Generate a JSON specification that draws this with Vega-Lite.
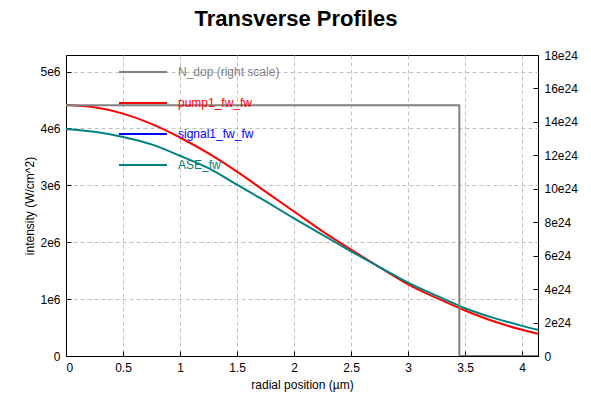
{
  "$schema": "https://vega.github.io/schema/vega-lite/v6.json",
  "width": 472,
  "height": 301,
  "autosize": {"type": "none"},
  "padding": {"left": 66, "top": 55, "right": 53, "bottom": 42},
  "background": "white",
  "title": {
    "text": "Transverse Profiles",
    "font": "Liberation Sans",
    "fontSize": 22,
    "fontWeight": "bold",
    "color": "#000000",
    "anchor": "middle",
    "frame": "group",
    "dx": -6,
    "offset": 16
  },
  "config": {
    "view": {"stroke": "#000000", "strokeWidth": 1},
    "font": "Liberation Sans",
    "axis": {
      "labelFont": "Liberation Sans",
      "labelFontSize": 12,
      "labelColor": "#000000",
      "titleFont": "Liberation Sans",
      "titleFontSize": 12,
      "titleFontWeight": "normal",
      "titleColor": "#000000",
      "domain": false,
      "tickColor": "#000000",
      "tickSize": -5,
      "labelPadding": 11,
      "gridWidth": 1
    }
  },
  "datasets": {
    "ndop": [
      {"r": 0, "n": 1.5e25, "o": 1, "series": "N_dop (right scale)"},
      {"r": 3.45, "n": 1.5e25, "o": 2, "series": "N_dop (right scale)"},
      {"r": 3.45, "n": 0, "o": 3, "series": "N_dop (right scale)"},
      {"r": 4.14, "n": 0, "o": 4, "series": "N_dop (right scale)"}
    ],
    "intensity": [
      {"r": 0, "I": 4410000, "series": "pump1_fw_fw"},
      {"r": 0.25, "I": 4370000, "series": "pump1_fw_fw"},
      {"r": 0.5, "I": 4260000, "series": "pump1_fw_fw"},
      {"r": 0.75, "I": 4080000, "series": "pump1_fw_fw"},
      {"r": 1.0, "I": 3840000, "series": "pump1_fw_fw"},
      {"r": 1.25, "I": 3560000, "series": "pump1_fw_fw"},
      {"r": 1.5, "I": 3240000, "series": "pump1_fw_fw"},
      {"r": 1.75, "I": 2890000, "series": "pump1_fw_fw"},
      {"r": 2.0, "I": 2540000, "series": "pump1_fw_fw"},
      {"r": 2.25, "I": 2190000, "series": "pump1_fw_fw"},
      {"r": 2.5, "I": 1870000, "series": "pump1_fw_fw"},
      {"r": 2.75, "I": 1560000, "series": "pump1_fw_fw"},
      {"r": 3.0, "I": 1260000, "series": "pump1_fw_fw"},
      {"r": 3.25, "I": 1020000, "series": "pump1_fw_fw"},
      {"r": 3.5, "I": 800000, "series": "pump1_fw_fw"},
      {"r": 3.75, "I": 610000, "series": "pump1_fw_fw"},
      {"r": 4.0, "I": 460000, "series": "pump1_fw_fw"},
      {"r": 4.14, "I": 390000, "series": "pump1_fw_fw"},
      {"r": 0, "I": null, "series": "signal1_fw_fw"},
      {"r": 4.14, "I": null, "series": "signal1_fw_fw"},
      {"r": 0, "I": 3990000, "series": "ASE_fw"},
      {"r": 0.25, "I": 3940000, "series": "ASE_fw"},
      {"r": 0.5, "I": 3850000, "series": "ASE_fw"},
      {"r": 0.75, "I": 3720000, "series": "ASE_fw"},
      {"r": 1.0, "I": 3520000, "series": "ASE_fw"},
      {"r": 1.25, "I": 3300000, "series": "ASE_fw"},
      {"r": 1.5, "I": 3010000, "series": "ASE_fw"},
      {"r": 1.75, "I": 2720000, "series": "ASE_fw"},
      {"r": 2.0, "I": 2420000, "series": "ASE_fw"},
      {"r": 2.25, "I": 2130000, "series": "ASE_fw"},
      {"r": 2.5, "I": 1840000, "series": "ASE_fw"},
      {"r": 2.75, "I": 1560000, "series": "ASE_fw"},
      {"r": 3.0, "I": 1290000, "series": "ASE_fw"},
      {"r": 3.25, "I": 1060000, "series": "ASE_fw"},
      {"r": 3.5, "I": 840000, "series": "ASE_fw"},
      {"r": 3.75, "I": 670000, "series": "ASE_fw"},
      {"r": 4.0, "I": 530000, "series": "ASE_fw"},
      {"r": 4.14, "I": 460000, "series": "ASE_fw"}
    ]
  },
  "encoding": {
    "x": {
      "field": "r",
      "type": "quantitative",
      "scale": {"domain": [0, 4.14], "nice": false, "zero": false},
      "axis": {
        "title": "radial position (µm)",
        "values": [0, 0.5, 1, 1.5, 2, 2.5, 3, 3.5, 4],
        "format": "~g",
        "titlePadding": 6,
        "grid": true,
        "gridColor": {"condition": {"test": "datum.value == 0", "value": "#000000"}, "value": "#c0c0c0"},
        "gridDash": {"condition": {"test": "datum.value == 0", "value": []}, "value": [4, 3]}
      }
    },
    "color": {
      "field": "series",
      "type": "nominal",
      "scale": {
        "domain": ["N_dop (right scale)", "pump1_fw_fw", "signal1_fw_fw", "ASE_fw"],
        "range": ["#808080", "#ff0000", "#0000ff", "#008080"]
      },
      "legend": {
        "title": null,
        "orient": "none",
        "legendX": 52,
        "legendY": -8,
        "symbolType": "stroke",
        "symbolSize": 2304,
        "symbolStrokeWidth": 2,
        "labelFont": "Liberation Sans",
        "labelFontSize": 12,
        "labelOffset": 10,
        "rowPadding": -32,
        "fillColor": null,
        "encode": {
          "labels": {"update": {"fill": {"scale": "color", "field": "value"}}}
        }
      }
    }
  },
  "layer": [
    {
      "data": {"name": "intensity"},
      "mark": {"type": "line", "strokeWidth": 2, "clip": true, "interpolate": "monotone"},
      "encoding": {
        "y": {
          "field": "I",
          "type": "quantitative",
          "scale": {"domain": [0, 5290000], "nice": false},
          "axis": {
            "orient": "left",
            "title": "intensity (W/cm^2)",
            "titlePadding": 3,
            "grid": true,
            "gridColor": {"condition": {"test": "datum.value == 0", "value": "#000000"}, "value": "#c0c0c0"},
            "gridDash": {"condition": {"test": "datum.value == 0", "value": []}, "value": [4, 3]},
            "values": [0, 1000000, 2000000, 3000000, 4000000, 5000000],
            "labelExpr": "datum.value == 0 ? '0' : round(datum.value / 1e6) + 'e6'"
          }
        }
      }
    },
    {
      "data": {"name": "ndop"},
      "mark": {"type": "line", "strokeWidth": 2, "clip": true},
      "encoding": {
        "order": {"field": "o", "type": "quantitative"},
        "y": {
          "field": "n",
          "type": "quantitative",
          "scale": {"domain": [0, 1.8e25], "nice": false},
          "axis": {
            "orient": "right",
            "title": null,
            "grid": false,
            "values": [0, 2e24, 4e24, 6e24, 8e24, 1e25, 1.2e25, 1.4e25, 1.6e25, 1.8e25],
            "labelExpr": "datum.value == 0 ? '0' : round(datum.value / 1e24) + 'e24'"
          }
        }
      }
    }
  ],
  "resolve": {"scale": {"y": "independent"}}
}
